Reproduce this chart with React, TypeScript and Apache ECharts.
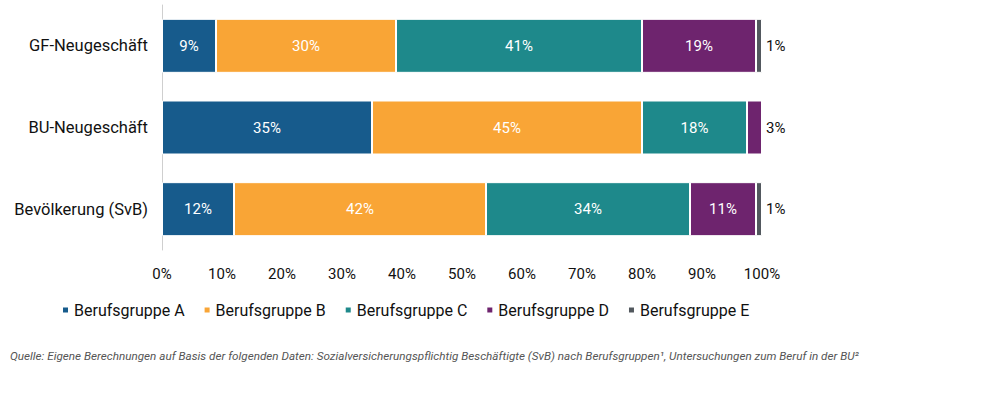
import React, { useEffect, useRef } from "react";
import * as echarts from "echarts";

const categories = ["GF-Neugeschäft", "BU-Neugeschäft", "Bevölkerung (SvB)"];
const groupNames = ["Berufsgruppe A", "Berufsgruppe B", "Berufsgruppe C", "Berufsgruppe D", "Berufsgruppe E"];
const groupA = [9, 35, 12];
const groupB = [30, 45, 42];
const groupC = [41, 17.5, 34];
const groupD = [19, 2.5, 11];
const groupE = [1, 0, 1];
const colors = ["#175b8c", "#f9a536", "#1e898b", "#6e246e", "#52585e"];
const xTicks = [0, 10, 20, 30, 40, 50, 60, 70, 80, 90, 100];
const sourceText =
  "Quelle: Eigene Berechnungen auf Basis der folgenden Daten: Sozialversicherungspflichtig Beschäftigte (SvB) nach Berufsgruppen¹, Untersuchungen zum Beruf in der BU²";

const FONT = "Roboto, 'DejaVu Sans', sans-serif";

export default function App() {
  const ref = useRef<HTMLDivElement>(null);

  useEffect(() => {
    if (!ref.current) return;
    const chart = echarts.init(ref.current, undefined, { renderer: "svg" });
    const all = [groupA, groupB, groupC, groupD, groupE];

    // the last non-empty segment of each bar carries its label outside, to the right
    const lastIndex = categories.map((_, ci) => {
      let last = 0;
      all.forEach((s, si) => {
        if (s[ci] > 0) last = si;
      });
      return last;
    });
    const outsideIfSmall = (si: number, ci: number, v: number) => si === lastIndex[ci] && v <= 3;

    const series = all.map((values, si) => ({
      name: groupNames[si],
      type: "bar",
      stack: "total",
      barWidth: 54,
      itemStyle: { color: colors[si], borderColor: "#ffffff", borderWidth: 1 },
      data: values.map((v, ci) => {
        const outside = outsideIfSmall(si, ci, v);
        return {
          value: v,
          label: {
            show: v > 0,
            position: outside ? "right" : "inside",
            distance: 4,
            color: outside ? "#111111" : "#ffffff",
            fontFamily: FONT,
            fontSize: 15,
            formatter: (p: any) => `${Number(p.value).toFixed(0)}%`,
          },
        };
      }),
    }));

    chart.setOption({
      animation: false,
      textStyle: { fontFamily: FONT },
      grid: { left: 162, right: 238, top: 5, bottom: 150, containLabel: false },
      xAxis: {
        type: "value",
        min: 0,
        max: 100,
        interval: 10,
        axisLine: { show: false },
        axisTick: { show: false },
        splitLine: { show: false },
        axisLabel: {
          color: "#111111",
          fontSize: 15,
          margin: 16,
          formatter: (v: number) => (xTicks.includes(v) ? `${v}%` : ""),
        },
      },
      yAxis: {
        type: "category",
        data: categories,
        inverse: true,
        axisLine: { show: true, lineStyle: { color: "#cfcfcf", width: 1 } },
        axisTick: { show: false },
        axisLabel: { color: "#111111", fontSize: 16.5, margin: 14 },
      },
      legend: {
        left: 56,
        top: 297,
        icon: "rect",
        itemWidth: 7,
        itemHeight: 7,
        itemGap: 18,
        textStyle: { color: "#111111", fontSize: 16, fontFamily: FONT },
        data: groupNames,
      },
      graphic: [
        {
          type: "text",
          left: 10,
          top: 350,
          style: {
            text: sourceText,
            fill: "#555555",
            fontSize: 11.7,
            fontStyle: "italic",
            fontFamily: FONT,
          },
        },
      ],
      series,
    });

    return () => chart.dispose();
  }, []);

  return <div ref={ref} style={{ width: 1000, height: 400, position: "absolute", left: 0, top: 0 }} />;
}
